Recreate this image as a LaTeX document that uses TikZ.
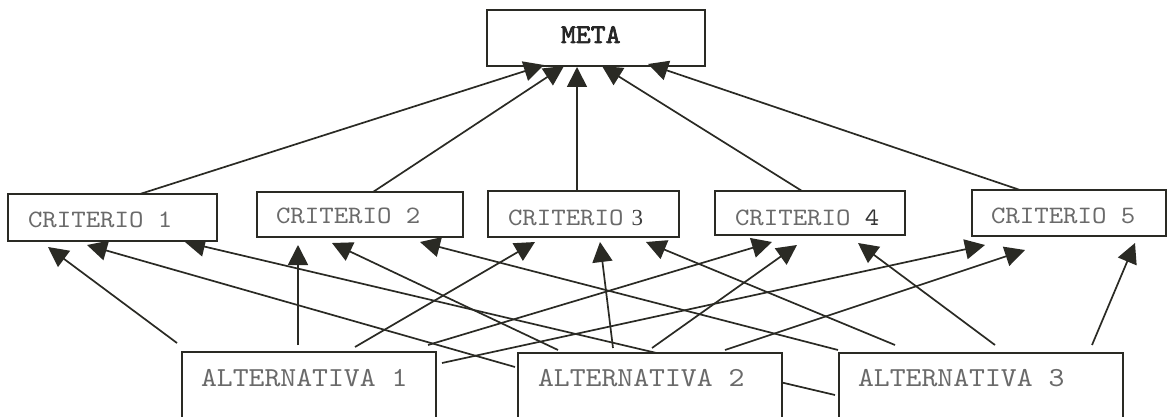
\documentclass[tikz,border=0pt]{standalone}
\usepackage{fontspec}
\newfontfamily\typefam[FakeStretch=1.1]{lmmono10-regular.otf}
\newfontfamily\typebold[FakeStretch=1.05,FakeBold=2.5]{lmmono10-regular.otf}
\newfontfamily\seriffam{Liberation Serif}
\usetikzlibrary{arrows.meta,calc}
\definecolor{ink}{HTML}{2A2A24}
\definecolor{txt}{HTML}{6A6A6A}
\pgfdeclarelayer{background}
\pgfsetlayers{background,main}
\tikzset{
  box/.style 2 args={draw=ink, fill=white, line width=1.3pt, inner sep=0pt, outer sep=0pt,
    minimum width=#1pt, minimum height=#2pt},
  lbl/.style={anchor=base west, inner sep=0pt, outer sep=0pt, text=txt},
  crit/.style={lbl, font=\typefam\fontsize{25}{25}\selectfont},
  alt/.style={lbl, font=\typefam\fontsize{27.5}{27.5}\selectfont},
  conn/.style={draw=ink, line width=1.7pt, -{Triangle[length=20pt,width=20pt]}},
}
\begin{document}
\begin{tikzpicture}[x=1pt,y=-1pt]
\useasboundingbox (0,0) rectangle (1170,417);
\begin{pgfonlayer}{background}
  \fill[white] (0,0) rectangle (1170,417);
\end{pgfonlayer}
\clip (0,0) rectangle (1170,417);

% goal
\node[box={218}{56}] (meta) at (596,38) {};
% criteria
\node[box={209}{47}] (c1) at (112.5,217.5) {};
\node[box={206}{45}] (c2) at (360,214.5) {};
\node[box={191}{46}] (c3) at (583.5,214) {};
\node[box={190}{44}] (c4) at (810,213) {};
\node[box={194}{46}] (c5) at (1069,213) {};
% alternatives
\node[box={254}{78}] (a1) at (309,391) {};
\node[box={264}{77}] (a2) at (650,391.5) {};
\node[box={284}{77}] (a3) at (981,391.5) {};

% texts
\node[lbl, text=black!85, font=\typebold\fontsize{27}{27}\selectfont] (tmeta) at (561,43) {META};
\node[crit] (tc1) at (28,227) {CRITERIO 1};
\node[crit] (tc2) at (276,223) {CRITERIO 2};
\node[crit] (tc3) at (508,225) {CRITERIO\hspace{8pt}{\seriffam\fontsize{23}{23}\selectfont\color{black!75}3}};
\node[crit] (tc4) at (735,225) {CRITERIO {\color{black!80}4}};
\node[crit] (tc5) at (991,223) {CRITERIO 5};
\node[alt] (ta1) at (201,386) {ALTERNATIVA 1};
\node[alt] (ta2) at (538,386) {ALTERNATIVA 2};
\node[alt] (ta3) at (858,386) {ALTERNATIVA 3};

% criteria -> goal
\draw[conn] ([xshift=132pt]c1.north west) -- ([xshift=57pt,yshift=1pt]meta.south west);
\draw[conn] ([xshift=116pt]c2.north west) -- ([xshift=77pt]meta.south west);
\draw[conn] ([xshift=89pt]c3.north west) -- ([xshift=90pt,yshift=-1pt]meta.south west);
\draw[conn] ([xshift=87pt]c4.north west) -- ([xshift=115pt]meta.south west);
\draw[conn] ([xshift=48pt]c5.north west) -- ([xshift=161pt,yshift=2pt]meta.south west);

% alternative 1 -> criteria
\draw[conn] ([xshift=-5pt,yshift=9pt]a1.north west) -- ([xshift=40pt,yshift=-6pt]c1.south west);
\draw[conn] ([xshift=116pt,yshift=7pt]a1.north west) -- ([xshift=41pt,yshift=-8pt]c2.south west);
\draw[conn] ([xshift=173pt,yshift=5pt]a1.north west) -- ([xshift=47pt,yshift=-5pt]c3.south west);
\draw[conn] ([xshift=246pt,yshift=7pt]a1.north west) -- ([xshift=57pt,yshift=-7pt]c4.south west);
\draw[conn] ([xshift=6pt,yshift=-11pt]a1.north east) -- ([xshift=13pt,yshift=-9pt]c5.south west);

% alternative 2 -> criteria
\draw[conn] ([xshift=-3pt,yshift=-14pt]a2.north west) -- ([xshift=79pt,yshift=-4pt]c1.south west);
\draw[conn] ([xshift=40pt,yshift=3pt]a2.north west) -- ([xshift=75pt,yshift=-6pt]c2.south west);
\draw[conn] ([xshift=95pt,yshift=5pt]a2.north west) -- ([xshift=112pt,yshift=-5pt]c3.south west);
\draw[conn] ([xshift=134pt,yshift=5pt]a2.north west) -- ([xshift=82pt,yshift=-10pt]c4.south west);
\draw[conn] ([xshift=207pt,yshift=3pt]a2.north west) -- ([xshift=53pt,yshift=-14pt]c5.south west);

% alternative 3 -> criteria (the first one runs behind alternative 2)
\begin{pgfonlayer}{background}
\draw[conn] ([xshift=-4pt,yshift=-42pt]a3.north west) -- ([xshift=177pt,yshift=-1pt]c1.south west);
\end{pgfonlayer}
\draw[conn] ([xshift=-1pt,yshift=3pt]a3.north west) -- ([xshift=163pt,yshift=-5pt]c2.south west);
\draw[conn] ([xshift=56pt,yshift=8pt]a3.north west) -- ([xshift=158pt,yshift=-5pt]c3.south west);
\draw[conn] ([xshift=156pt,yshift=8pt]a3.north west) -- ([xshift=143pt,yshift=-8pt]c4.south west);
\draw[conn] ([xshift=253pt,yshift=8pt]a3.north west) -- ([xshift=163pt,yshift=-7pt]c5.south west);
\end{tikzpicture}
\end{document}
